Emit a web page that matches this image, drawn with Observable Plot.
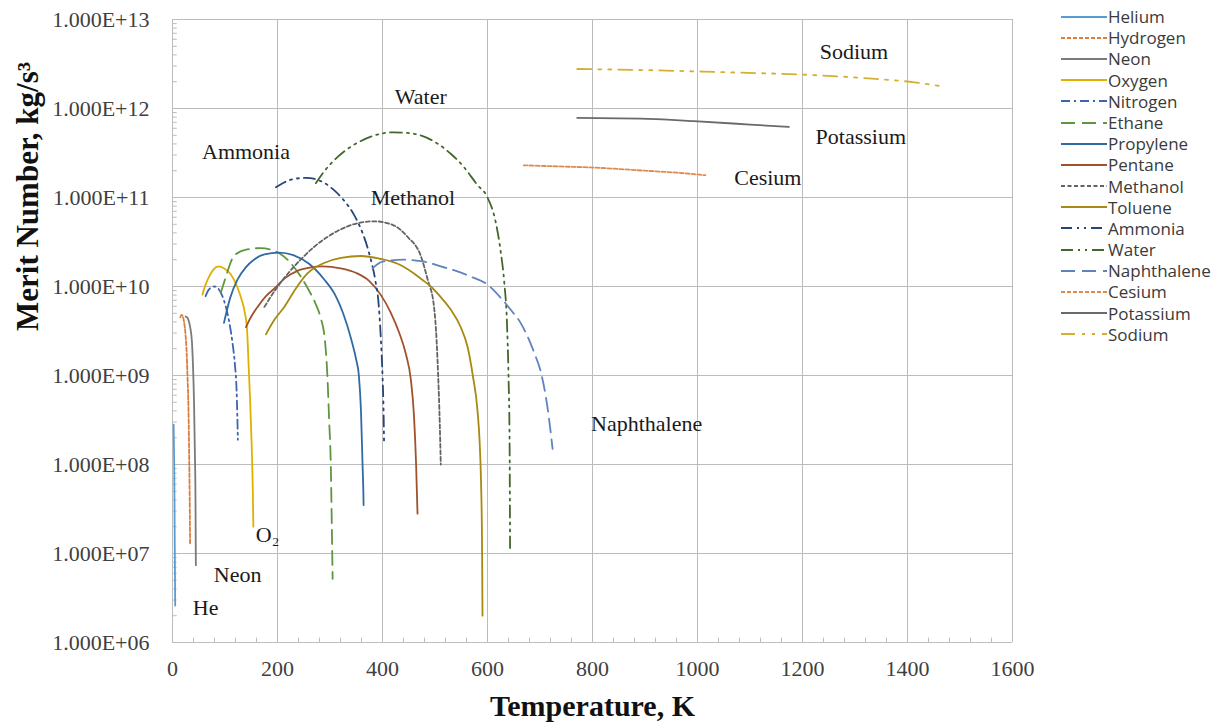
<!DOCTYPE html>
<html><head><meta charset="utf-8">
<script src="https://cdn.jsdelivr.net/npm/d3@7"></script>
<script src="https://cdn.jsdelivr.net/npm/@observablehq/plot@0.6"></script>
<style>
html,body{margin:0;padding:0;background:#fff;}
body{width:1229px;height:725px;overflow:hidden;position:relative;}
#chart{position:absolute;left:0;top:0;}
#legend{position:absolute;left:1061px;top:6px;font-family:"Open Sans",sans-serif;font-size:17px;line-height:21.2px;color:#3a3a3a;}
#legend .row{height:21.2px;display:flex;align-items:center;white-space:nowrap;}
#legend svg{display:block;margin-right:1px;}
</style></head><body>
<div id="chart"></div><div id="legend"></div>
<script>
// ---- data (Temperature K, Merit number kg/s^3) ----
const helium = [[2.2,2.8e8],[2.8,1.5e8],[3.3,9e7],[3.8,4e7],[4.3,1.2e7],[4.8,5e6],[5.1,2.6e6]];
const hydrogen = [[15,4.5e9],[17,4.8e9],[19,4.7e9],[22,4e9],[25,2.8e9],[27,1.8e9],[28.5,1e9],[30.5,4e8],[32,1e8],[33,3e7],[33.5,1.3e7]];
const neon = [[25,4.6e9],[28,4.5e9],[31,4.1e9],[34,3.4e9],[37,2.4e9],[39,1.3e9],[41,5e8],[42.5,1.5e8],[43.8,4e7],[44.5,7.4e6]];
const oxygen = [[57,8.1e9],[63,1.05e10],[70,1.3e10],[78,1.55e10],[88,1.68e10],[98,1.6e10],[110,1.4e10],[123,1e10],[132,7e9],[138,5e9],[142,3.3e9],[145,1.3e9],[148,5e8],[151,1.5e8],[153,5e7],[154,2e7]];
const nitrogen = [[63,7.8e9],[68,9e9],[74,9.8e9],[80,1e10],[87,9.5e9],[95,7.8e9],[102,5.8e9],[108,4e9],[114,2.4e9],[119,1.3e9],[122,7e8],[123.5,3.5e8],[124.5,1.9e8]];
const ethane = [[92,8.5e9],[100,1.2e10],[117,2.2e10],[140,2.6e10],[168,2.7e10],[195,2.5e10],[219,2e10],[244,1.3e10],[260,9e9],[272,6.5e9],[282,4.5e9],[290,2.6e9],[295,1e9],[298.5,3e8],[301.5,1e8],[303.5,2e7],[305,5.2e6]];
const propylene = [[98,3.9e9],[110,7.5e9],[124,1.2e10],[140,1.65e10],[155,2e10],[175,2.3e10],[203,2.4e10],[230,2.25e10],[260,1.8e10],[289,1.2e10],[310,8e9],[325,5e9],[340,2.6e9],[350,1.5e9],[355,1e9],[359,4e8],[362,1e8],[363.5,5e7],[364,3.5e7]];
const pentane = [[140,3.5e9],[150,4.6e9],[162,5.9e9],[178,7.8e9],[194,9.5e9],[215,1.25e10],[238,1.5e10],[262,1.63e10],[286,1.68e10],[320,1.6e10],[350,1.42e10],[375,1.15e10],[397,8e9],[415,5.2e9],[432,3e9],[445,1.7e9],[454,9e8],[460,3.5e8],[464,1e8],[466.7,2.8e7]];
const methanol = [[175,5.9e9],[195,9e9],[220,1.4e10],[244,2e10],[270,2.8e10],[295,3.6e10],[321,4.4e10],[350,5.1e10],[385,5.4e10],[420,4.9e10],[448,3.6e10],[473,2.2e10],[486,1.2e10],[498,6e9],[503,2.5e9],[506,1e9],[509,3e8],[511,1e8]];
const toluene = [[178,2.9e9],[195,4.3e9],[213,5.9e9],[235,9.5e9],[257,1.4e10],[290,1.85e10],[321,2.1e10],[359,2.2e10],[395,2.05e10],[429,1.8e10],[460,1.4e10],[475,1.2e10],[492,1e10],[511,7.6e9],[530,5.5e9],[548,3.6e9],[562,2.1e9],[572,1e9],[581,4e8],[585,1.8e8],[587.5,7e7],[589.5,1.5e7],[590.5,2e6]];
const ammonia = [[197,1.3e11],[215,1.5e11],[235,1.63e11],[255,1.66e11],[280,1.55e11],[305,1.25e11],[325,9.5e10],[345,6.5e10],[362,4e10],[376,2.2e10],[386,1.2e10],[393,6e9],[397,2.5e9],[400,1e9],[402,4e8],[403,1.7e8]];
const water = [[273,1.45e11],[290,2e11],[310,2.7e11],[330,3.4e11],[355,4.2e11],[385,5e11],[422,5.4e11],[460,5.2e11],[500,4.2e11],[530,3.1e11],[555,2.2e11],[580,1.4e11],[600,1e11],[615,5.5e10],[625,2.5e10],[632,1.1e10],[637,4e9],[640,1e9],[642,2e8],[643,1.15e7]];
const naphthalene = [[381,1.6e10],[400,1.9e10],[441,2e10],[480,1.9e10],[511,1.68e10],[540,1.5e10],[570,1.28e10],[600,1.05e10],[625,7.5e9],[645,5.4e9],[663,3.9e9],[689,1.8e9],[702,1.07e9],[714,4.5e8],[724,1.5e8]];
const cesium = [[669,2.3e11],[720,2.25e11],[815,2.15e11],[900,2e11],[960,1.9e11],[1015,1.78e11]];
const potassium = [[771,7.83e11],[891,7.71e11],[993,7.2e11],[1100,6.6e11],[1174,6.21e11]];
const sodium = [[771,2.78e12],[900,2.7e12],[1038,2.57e12],[1229,2.36e12],[1340,2.15e12],[1413,1.97e12],[1463,1.78e12]];

const seriesNames = ["Helium","Hydrogen","Neon","Oxygen","Nitrogen","Ethane","Propylene","Pentane","Methanol","Toluene","Ammonia","Water","Naphthalene","Cesium","Potassium","Sodium"];
const seriesData = [helium,hydrogen,neon,oxygen,nitrogen,ethane,propylene,pentane,methanol,toluene,ammonia,water,naphthalene,cesium,potassium,sodium];

const xTicks = [0,200,400,600,800,1000,1200,1400,1600];
const yTicks = [1e6,1e7,1e8,1e9,1e10,1e11,1e12,1e13];

const labelNames = ["Sodium","Water","Potassium","Ammonia","Cesium","Methanol","Naphthalene","O₂","Neon","He"];
const labelT = [1298,473,1311,140,1134,458,903,181,124,63];
const labelM = [4.37e12,1.36e12,4.83e11,3.27e11,1.67e11,9.96e10,2.86e8,1.61e7,5.7e6,2.43e6];

// ---- styles ----
const colors = ["#5b9bd5","#e07b39","#7a7a7a","#e0b000","#3f63b0","#5f9640","#2f6aa3","#a0522d","#636363","#a88a10","#264478","#43682b","#5f83bf","#e08a50","#6a6a6a","#d4b030"];
const dashes = [null,"4,2",null,null,"9,4,2,4","14,7",null,null,"4,2.5",null,"11,5,2,5,2,5","12,5,2,5,2,5","14,7","4,2",null,"14,7,3,7,3,7"];

const rows = seriesNames.flatMap((n,i)=>seriesData[i].map(([T,M])=>({name:n,T,M})));
const labels = labelNames.map((t,i)=>({t, T:labelT[i], M:labelM[i]}));
const minorX = d3.range(0,1601,40);
const minorY = d3.range(6,13).flatMap(e=>d3.range(2,10).map(k=>k*Math.pow(10,e)));

const fmtY = d => "1.000E+" + String(Math.round(Math.log10(d))).padStart(2,"0");
const fmtX = d => String(d);

const plot = Plot.plot({
  width: 1229, height: 725,
  marginLeft: 172, marginRight: 217, marginTop: 19, marginBottom: 83,
  style: {fontFamily: '"Liberation Serif", "Times New Roman", serif', background: "#fff", color: "#404040"},
  x: {domain: [0,1600], label: null},
  y: {type: "log", domain: [1e6,1e13], label: null},
  marks: [
    Plot.gridX(xTicks, {stroke: "#bcbcbc", strokeOpacity: 1}),
    Plot.gridY(yTicks, {stroke: "#bcbcbc", strokeOpacity: 1}),
    Plot.ruleY(minorY, {x1: 0, x2: 9, stroke: "#bcbcbc"}),
    Plot.ruleX(minorX, {y1: 1e6, y2: 1.12e6, stroke: "#bcbcbc"}),
    Plot.axisX(xTicks, {tickSize: 0, tickPadding: 18, fontSize: 22, fill: "#404040", tickFormat: fmtX, label: null}),
    Plot.axisY(yTicks, {tickSize: 0, tickPadding: 23, fontSize: 22, fill: "#404040", tickFormat: fmtY, label: null}),
    ...seriesNames.map((n,i) => Plot.line(rows.filter(r=>r.name===n), {
      x: "T", y: "M", stroke: colors[i], strokeWidth: 1.8,
      strokeDasharray: dashes[i] || undefined, curve: "monotone-x"
    })),
    Plot.text(labels, {x: "T", y: "M", text: "t", fontSize: 22, fill: "#1a1a1a"}),
    Plot.text(["Temperature, K"], {frameAnchor: "bottom", dy: 64, fontSize: 30, fontWeight: "bold", fill: "#111", lineAnchor: "middle"}),
    Plot.text(["Merit Number, kg/s³"], {frameAnchor: "left", dx: -144, rotate: -90, fontSize: 31, fontWeight: "bold", fill: "#111", lineAnchor: "middle"})
  ]
});
document.getElementById("chart").appendChild(plot);

// ---- legend ----
const leg = document.getElementById("legend");
seriesNames.forEach((n,i) => {
  const row = document.createElement("div");
  row.className = "row";
  const ns = "http://www.w3.org/2000/svg";
  const s = document.createElementNS(ns, "svg");
  s.setAttribute("width", 46); s.setAttribute("height", 10);
  const l = document.createElementNS(ns, "line");
  l.setAttribute("x1", 0); l.setAttribute("x2", 46); l.setAttribute("y1", 5); l.setAttribute("y2", 5);
  l.setAttribute("stroke", colors[i]); l.setAttribute("stroke-width", 2);
  if (dashes[i]) l.setAttribute("stroke-dasharray", dashes[i]);
  s.appendChild(l);
  row.appendChild(s);
  const t = document.createElement("span");
  t.textContent = n;
  row.appendChild(t);
  leg.appendChild(row);
});
</script>
</body></html>
